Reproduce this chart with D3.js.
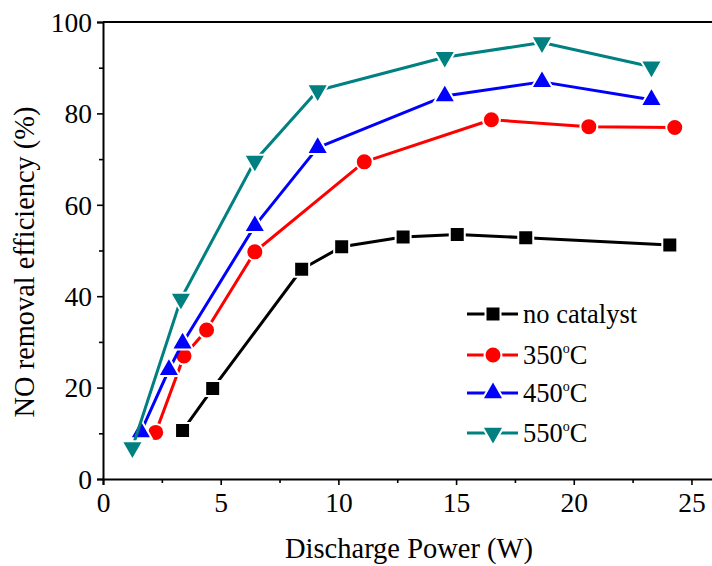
<!DOCTYPE html>
<html><head><meta charset="utf-8">
<script src="https://cdn.jsdelivr.net/npm/d3@7"></script>
<style>body{margin:0;background:#fff}svg{display:block}text{fill:#000}</style>
</head><body><svg id="c" width="712" height="566"></svg>
<script>
const seriesNames = ["no catalyst", "350", "450", "550"];
const colors = ["#000000", "#FF0000", "#0000FF", "#008080"];
const symbols = ["square", "circle", "triangle", "triangleDown"];
const xNoCat = [3.38, 4.66, 8.44, 10.14, 12.75, 15.05, 17.96, 24.08];
const yNoCat = [10.6, 19.8, 45.9, 50.8, 52.95, 53.5, 52.8, 51.2];
const x350 = [2.24, 3.44, 4.40, 6.45, 11.10, 16.5, 20.64, 24.29];
const y350 = [10.2, 26.9, 32.6, 49.7, 69.4, 78.6, 77.1, 76.9];
const x450 = [1.61, 2.80, 3.38, 6.45, 9.12, 14.52, 18.65, 23.3];
const y450 = [10.3, 23.9, 29.7, 55.4, 72.5, 83.8, 86.9, 83.0];
const x550 = [1.25, 3.31, 6.45, 9.12, 14.52, 18.65, 23.3];
const y550 = [6.9, 39.4, 69.6, 85.0, 92.3, 95.5, 90.2];
const xTicks = [0, 5, 10, 15, 20, 25];
const yTicks = [0, 20, 40, 60, 80, 100];

const FONT = "Liberation Serif";
const series = [[xNoCat,yNoCat],[x350,y350],[x450,y450],[x550,y550]];
const svg = d3.select("#c");
const x = d3.scaleLinear().domain([0, 26]).range([103, 715]);
const y = d3.scaleLinear().domain([0, 100]).range([479, 22]);

// axes
const xAxis = d3.axisBottom(x).tickValues(xTicks).tickSize(6).tickPadding(7).tickFormat(d3.format("d"));
const gx = svg.append("g").attr("transform", "translate(0,479)").call(xAxis);
gx.selectAll(".tick text").attr("font-family", FONT).attr("font-size", 27.5).attr("dy", "0.72em");
const xMinor = d3.axisBottom(x).tickValues([2.5,7.5,12.5,17.5,22.5]).tickSize(4).tickFormat("");
svg.append("g").attr("transform", "translate(0,479)").call(xMinor).select(".domain").remove();

const yAxis = d3.axisLeft(y).tickValues(yTicks).tickSize(6).tickPadding(5);
const gy = svg.append("g").attr("transform", "translate(103,0)").call(yAxis);
gy.selectAll(".tick text").attr("font-family", FONT).attr("font-size", 27.5).attr("dy", "0.34em");
const yMinor = d3.axisLeft(y).tickValues([10,30,50,70,90]).tickSize(4).tickFormat("");
svg.append("g").attr("transform", "translate(103,0)").call(yMinor).select(".domain").remove();

svg.selectAll(".domain").attr("stroke-width", 2).attr("stroke", "#000");
svg.selectAll(".tick line").attr("stroke-width", 1.6).attr("stroke", "#000");
// top line
svg.append("line").attr("x1", x(0)).attr("x2", 712).attr("y1", y(100)).attr("y2", y(100)).attr("stroke", "#000").attr("stroke-width", 2);

// titles
svg.append("text").attr("x", 409).attr("y", 558).attr("text-anchor", "middle").attr("font-family", FONT).attr("font-size", 28.5).text("Discharge Power (W)");
svg.append("text").attr("transform", "translate(34,262) rotate(-90)").attr("text-anchor", "middle").attr("font-family", FONT).attr("font-size", 28.4).text("NO removal efficiency (%)");

function symPath(kind) {
  if (kind === "square") return d3.symbol(d3.symbolSquare, 225)();
  if (kind === "circle") return d3.symbol(d3.symbolCircle, 227)();
  return d3.symbol(d3.symbolTriangle, 200)();
}
function drawMarker(g, kind, color, cx, cy) {
  const p = g.append("path").attr("d", symPath(kind)).attr("fill", color).attr("stroke", "#fff").attr("stroke-width", 2);
  if (kind === "triangleDown") p.attr("transform", `translate(${cx},${cy}) rotate(180)`);
  else p.attr("transform", `translate(${cx},${cy})`);
}

const line = d3.line().x(d => x(d[0])).y(d => y(d[1]));
series.forEach((s, i) => {
  const pts = s[0].map((v, j) => [v, s[1][j]]);
  const g = svg.append("g");
  g.append("path").attr("d", line(pts)).attr("fill", "none").attr("stroke", colors[i]).attr("stroke-width", 3).attr("stroke-linejoin", "round");
  pts.forEach(p => drawMarker(g, symbols[i], colors[i], x(p[0]), y(p[1])));
});

// legend
const legY = [314, 355, 393, 433];
seriesNames.forEach((n, i) => {
  const g = svg.append("g");
  g.append("line").attr("x1", 467).attr("x2", 518).attr("y1", legY[i]).attr("y2", legY[i]).attr("stroke", colors[i]).attr("stroke-width", 3);
  drawMarker(g, symbols[i], colors[i], 493, legY[i]);
  const t = g.append("text").attr("x", 523).attr("y", legY[i] + 9).attr("font-family", FONT).attr("font-size", 26.5);
  if (i === 0) t.text(n);
  else {
    t.append("tspan").text(n);
    t.append("tspan").attr("dy", -11).attr("font-size", 14).text("o");
    t.append("tspan").attr("dy", 11).text("C");
  }
});
</script></body></html>
